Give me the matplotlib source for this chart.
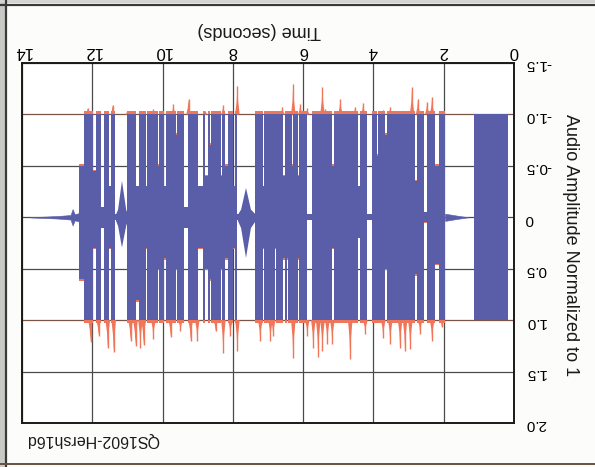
import numpy as np
import matplotlib
matplotlib.use("Agg")
import matplotlib.pyplot as plt
from matplotlib.lines import Line2D
from matplotlib.patches import Rectangle

# ---------------- data ----------------
x_ticks = [0, 2, 4, 6, 8, 10, 12, 14]
y_ticks = [-1.5, -1.0, -0.5, 0, 0.5, 1.0, 1.5, 2.0]
y_tick_labels = ["-1.5", "-1.0", "-0.5", "0", "0.5", "1.0", "1.5", "2.0"]

# calibration tone (s) and its amplitude
tone_start, tone_end, tone_amp = 0.17, 1.14, 1.0

# faint signal before speech / after speech
pre_t = [1.30, 1.60, 1.96]
pre_amp = [0.0, 0.015, 0.035]
post_t = [12.39, 12.50, 12.56, 12.62, 13.00, 13.40, 13.75]
post_amp = [0.04, 0.03, 0.08, 0.022, 0.012, 0.006, 0.002]

# clipped speech envelope: segment edges (s), negative- and positive-side amplitude
seg_edges = [1.96, 2.13, 2.24, 2.47, 2.56, 2.76, 2.81, 3.61, 3.66, 3.86,
             3.89, 4.03, 4.18, 4.38, 4.43, 5.11, 5.17, 5.74, 5.88, 6.11,
             6.14, 6.28, 6.31, 6.42, 6.45, 6.53, 6.56, 6.76, 6.79, 7.10,
             7.13, 7.36, 7.87, 7.93, 8.01, 8.15, 8.21, 8.32, 8.35, 8.61,
             8.64, 8.72, 8.78, 8.86, 8.98, 9.29, 9.40, 9.60, 9.63, 9.89,
             9.97, 10.11, 10.14, 10.43, 10.48, 10.68, 10.77, 11.00, 11.34, 11.48,
             11.53, 11.68, 11.76, 11.90, 11.99, 12.24, 12.39]
seg_neg = [1.0, 0.50, 1.0, 0.05, 1.0, 0.35, 1.0, 0.80, 1.0, 0.60,
           1.0, 0.03, 1.0, 0.30, 1.0, 0.50, 1.0, 0.03, 1.0, 0.40,
           1.0, 0.50, 1.0, 1.0, 1.0, 0.40, 1.0, 1.0, 1.0, 0.30,
           1.0, 0.03, 1.0, 0.30, 1.0, 0.50, 1.0, 0.40, 1.0, 0.70,
           1.0, 0.40, 1.0, 0.30, 1.0, 0.10, 1.0, 0.80, 1.0, 0.30,
           1.0, 0.50, 1.0, 0.30, 1.0, 0.30, 1.0, 0.03, 1.0, 0.30,
           1.0, 0.10, 1.0, 0.45, 1.0, 0.50]
seg_pos = [1.0, 0.45, 1.0, 0.05, 1.0, 0.55, 1.0, 0.50, 1.0, 1.0,
           1.0, 0.03, 1.0, 0.20, 1.0, 0.30, 1.0, 0.03, 1.0, 0.40,
           1.0, 1.0, 1.0, 0.40, 1.0, 0.40, 1.0, 0.30, 1.0, 0.30,
           1.0, 0.03, 1.0, 0.30, 1.0, 0.40, 1.0, 0.50, 1.0, 0.60,
           1.0, 0.50, 1.0, 0.30, 1.0, 0.10, 1.0, 0.50, 1.0, 0.40,
           1.0, 0.50, 1.0, 0.30, 1.0, 0.80, 1.0, 0.03, 1.0, 0.30,
           1.0, 0.10, 1.0, 0.30, 1.0, 0.60]

# small spindles inside the two long pauses
spin1_t = [7.36, 7.50, 7.64, 7.78, 7.87]
spin1_neg = [0.03, 0.08, 0.29, 0.08, 0.03]
spin1_pos = [0.03, 0.10, 0.39, 0.10, 0.03]
spin2_t = [11.00, 11.05, 11.17, 11.28, 11.34]
spin2_neg = [0.03, 0.08, 0.36, 0.08, 0.03]
spin2_pos = [0.03, 0.08, 0.29, 0.08, 0.03]

# unclipped peaks (orange) beyond -1 and +1
top_t = [12.13, 11.42, 11.00, 10.26, 9.69, 9.26, 8.78, 8.27, 7.87, 6.59,
         6.28, 6.08, 5.88, 5.45, 5.37, 4.94, 4.52, 4.29, 3.72, 3.52,
         2.90, 2.73, 2.47, 2.33]
top_peak = [1.06, 1.09, 1.03, 1.05, 1.10, 1.15, 1.03, 1.09, 1.28, 1.07,
            1.30, 1.10, 1.06, 1.27, 1.05, 1.15, 1.07, 1.11, 1.04, 1.07,
            1.27, 1.15, 1.12, 1.17]
bot_t = [12.05, 11.82, 11.56, 11.39, 10.91, 10.77, 10.63, 10.54, 10.26, 9.77,
         9.49, 9.20, 9.01, 8.49, 8.27, 8.07, 7.87, 7.22, 6.93, 6.85,
         6.28, 5.88, 5.71, 5.57, 5.45, 5.31, 5.17, 4.66, 4.23, 3.72,
         3.52, 3.24, 3.10, 2.95, 2.67, 2.33, 2.05]
bot_peak = [1.21, 1.15, 1.27, 1.31, 1.20, 1.25, 1.27, 1.24, 1.18, 1.16,
            1.11, 1.20, 1.20, 1.11, 1.32, 1.15, 1.30, 1.20, 1.20, 1.15,
            1.37, 1.15, 1.27, 1.36, 1.30, 1.23, 1.23, 1.38, 1.13, 1.17,
            1.23, 1.27, 1.30, 1.28, 1.13, 1.20, 1.07]

x_label = "Time (seconds)"
y_label = "Audio Amplitude Normalized to 1"
caption = "QS1602-Hersh16d"

# ---------------- style ----------------
BLUE = "#5a5ea8"
ORANGE = "#f0765a"
GRID = "#4a4a4a"

plt.rcParams["font.family"] = ["Liberation Sans", "DejaVu Sans"]
plt.rcParams["axes.unicode_minus"] = False

W, H = 595, 467
fig = plt.figure(figsize=(W / 100, H / 100), dpi=100)
fig.patch.set_facecolor("#fcfcfa")

def fx(px):
    return px / W

def fy(py):
    return 1 - py / H

ax = fig.add_axes([fx(22), fy(423), fx(514) - fx(22), fy(63) - fy(423)])
ax.set_facecolor("white")
ax.set_xlim(14, 0)
ax.set_ylim(2.0, -1.5)

# grid
ax.set_axisbelow(True)
ax.set_xticks(x_ticks)
ax.set_yticks(y_ticks)
ax.set_yticklabels(y_tick_labels)
ax.grid(True, color=GRID, lw=0.9)
for gl, val in zip(ax.get_ygridlines(), y_ticks):
    if abs(abs(val) - 1.0) < 1e-9:
        gl.set_color("#7a5444")

ax.xaxis.set_ticks_position("top")
ax.yaxis.set_ticks_position("right")
ax.tick_params(axis="x", length=0, pad=3, labelsize=12, labelrotation=180)
ax.tick_params(axis="y", length=0, pad=8, labelsize=11, labelrotation=180)
for sp in ax.spines.values():
    sp.set_linewidth(1.4)
    sp.set_color("#1a1a1a")

# orange (unclipped) edges and peaks
edges = np.array(seg_edges)
neg = np.append(seg_neg, seg_neg[-1])
pos = np.append(seg_pos, seg_pos[-1])
ax.fill_between(edges, -neg * 1.03, pos * 1.03, step="post",
                color=ORANGE, lw=0, zorder=2)
w = 0.13
for t, p in zip(top_t, top_peak):
    ax.fill([t - w / 2, t - w / 6, t, t + w / 6, t + w / 2],
            [-1.0, -1.0 - (p - 1.0) * 0.45, -p, -1.0 - (p - 1.0) * 0.45, -1.0],
            color=ORANGE, lw=0, zorder=2)
    ax.vlines(t, -1.0, -p, color=ORANGE, lw=1.0, zorder=2)
for t, p in zip(bot_t, bot_peak):
    ax.fill([t - w / 2, t - w / 6, t, t + w / 6, t + w / 2],
            [1.0, 1.0 + (p - 1.0) * 0.45, p, 1.0 + (p - 1.0) * 0.45, 1.0],
            color=ORANGE, lw=0, zorder=2)
    ax.vlines(t, 1.0, p, color=ORANGE, lw=1.0, zorder=2)

# blue (clipped) waveform
ax.fill_between([tone_start, tone_end], -tone_amp, tone_amp, color=BLUE, lw=0, zorder=3)
ax.fill_between(pre_t, -np.array(pre_amp), pre_amp, color=BLUE, lw=0.4,
                edgecolor=BLUE, zorder=3)
ax.fill_between(post_t, -np.array(post_amp), post_amp, color=BLUE, lw=0.4,
                edgecolor=BLUE, zorder=3)
ax.fill_between(edges, -neg, pos, step="post", color=BLUE, lw=0, zorder=3)
ax.fill_between(spin1_t, -np.array(spin1_neg), spin1_pos, color=BLUE, lw=0, zorder=3)
ax.fill_between(spin2_t, -np.array(spin2_neg), spin2_pos, color=BLUE, lw=0, zorder=3)

# labels (upside-down, as in the scanned page)
fig.text(fx(259), fy(30), x_label, rotation=180, ha="center", va="center",
         fontsize=13, color="#1a1a1a")
fig.text(fx(570), fy(245), y_label, rotation=270, ha="center", va="center",
         fontsize=13, color="#1a1a1a")
fig.text(fx(93), fy(439), caption, rotation=180, ha="center", va="center",
         fontsize=11.5, color="#1a1a1a")

# scanned page frame
fig.add_artist(Rectangle((0, 0), fx(5), 1, transform=fig.transFigure,
                         color="#c9c9c6", lw=0))
fig.add_artist(Rectangle((0, fy(3)), 1, 1 - fy(3), transform=fig.transFigure,
                         color="#d4d4d0", lw=0))
fig.add_artist(Line2D([fx(6), fx(6)], [0, 1], transform=fig.transFigure,
                      color="#3a3a3a", lw=1.6))
fig.add_artist(Line2D([0, 1], [fy(4.5), fy(4.5)], transform=fig.transFigure,
                      color="#3a3a3a", lw=1.6))
fig.add_artist(Line2D([0, 1], [fy(464), fy(464)], transform=fig.transFigure,
                      color="#6a5040", lw=1.4))

fig.savefig("out.png", dpi=100, facecolor=fig.get_facecolor())
